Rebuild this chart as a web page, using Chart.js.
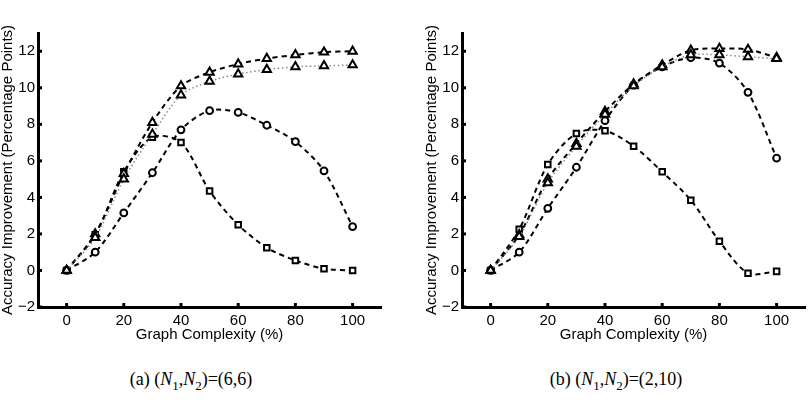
<!DOCTYPE html>
<html>
<head>
<meta charset="utf-8">
<title>Accuracy improvement vs graph complexity</title>
<script src="https://cdn.jsdelivr.net/npm/chart.js@4.4.1/dist/chart.umd.min.js"></script>
<style>
  body { margin: 0; background: #fff; width: 812px; height: 408px; overflow: hidden; position: relative; }
  canvas { position: absolute; top: 0; }
  #chartA { left: 0; }
  #chartB { left: 424px; }
  .caption { position: absolute; top: 369px; width: 240px; text-align: center;
             font-family: "Liberation Serif", "Times New Roman", serif; font-size: 18px; color: #000; }
  .caption sub { font-size: 13px; }
</style>
</head>
<body>
<canvas id="chartA" width="388" height="345"></canvas>
<canvas id="chartB" width="388" height="345"></canvas>
<div class="caption" style="left:71px">(a) (<i>N</i><sub>1</sub>,<i>N</i><sub>2</sub>)=(6,6)</div>
<div class="caption" style="left:496px">(b) (<i>N</i><sub>1</sub>,<i>N</i><sub>2</sub>)=(2,10)</div>

<script>
// x values (graph complexity, %)
const complexity = [0, 10, 20, 30, 40, 50, 60, 70, 80, 90, 100];
const xTicks = [0, 20, 40, 60, 80, 100];
const yTicks = [-2, 0, 2, 4, 6, 8, 10, 12];

// (a) (N1,N2)=(6,6)
const aTriDashed = [0, 2.0, 5.3, 8.1, 10.1, 10.85, 11.3, 11.6, 11.8, 11.95, 12.0];
const aTriDotted = [0, 1.8, 5.0, 7.45, 9.6, 10.35, 10.75, 11.0, 11.15, 11.2, 11.25];
const aCircle    = [0, 1.0, 3.15, 5.35, 7.7, 8.75, 8.65, 7.95, 7.05, 5.45, 2.4];
const aSquare    = [0, 1.95, 5.4, 7.3, 7.0, 4.35, 2.5, 1.25, 0.55, 0.1, 0.0];

// (b) (N1,N2)=(2,10)
const bTriDashed = [0, 1.95, 5.0, 6.95, 8.7, 10.2, 11.25, 12.05, 12.15, 12.1, 11.65];
const bTriDotted = [0, 1.85, 4.8, 6.8, 8.55, 10.1, 11.15, 11.8, 11.8, 11.7, 11.6];
const bCircle    = [0, 1.0, 3.4, 5.65, 8.2, 10.15, 11.15, 11.65, 11.35, 9.75, 6.15];
const bSquare    = [0, 2.25, 5.8, 7.5, 7.65, 6.8, 5.4, 3.85, 1.6, -0.15, -0.05];

Chart.defaults.color = '#000';
Chart.defaults.font.family = '"Liberation Sans", Arial, sans-serif';

function points(values) {
    return complexity.map((x, i) => ({ x: x, y: values[i] }));
}

function series(values, style, dotted) {
    return {
        data: points(values),
        borderColor: dotted ? '#8a8a8a' : '#000',
        borderWidth: dotted ? 1.5 : 2,
        borderDash: dotted ? [1.5, 2.5] : [5, 4],
        tension: 0.3,
        fill: false,
        pointStyle: style,
        pointRadius: style === 'triangle' ? 4.8 : (style === 'rect' ? 3.9 : 3.4),
        pointBorderWidth: 2,
        pointBorderColor: '#000',
        pointBackgroundColor: '#fff'
    };
}

// small tick marks drawn inside the axes
const tickMarks = {
    id: 'tickMarks',
    afterDraw(chart) {
        const { ctx, chartArea, scales } = chart;
        ctx.save();
        ctx.fillStyle = '#000';
        xTicks.forEach(v => {
            const px = scales.x.getPixelForValue(v);
            ctx.fillRect(px - 1.5, chartArea.bottom - 4, 3, 4);
        });
        yTicks.forEach(v => {
            const py = scales.y.getPixelForValue(v);
            ctx.fillRect(chartArea.left, py - 1.5, 4, 3);
        });
        ctx.restore();
    }
};

function makeChart(id, triDashed, triDotted, circle, square) {
    const ctx = document.getElementById(id).getContext('2d');
    return new Chart(ctx, {
        type: 'line',
        data: {
            datasets: [
                series(triDotted, 'triangle', true),
                series(triDashed, 'triangle', false),
                series(circle, 'circle', false),
                series(square, 'rect', false)
            ]
        },
        options: {
            responsive: false,
            animation: false,
            devicePixelRatio: 1,
            layout: { padding: { top: 33, right: 2, left: 0, bottom: 0 } },
            plugins: { legend: { display: false }, tooltip: { enabled: false } },
            scales: {
                x: {
                    type: 'linear',
                    min: -10,
                    max: 110,
                    afterBuildTicks: s => { s.ticks = xTicks.map(v => ({ value: v })); },
                    afterFit: s => { s.height = 38; },
                    grid: { display: false, drawTicks: false },
                    border: { display: true, color: '#000', width: 3 },
                    ticks: { padding: 5, font: { size: 15 } },
                    title: {
                        display: true,
                        text: 'Graph Complexity (%)',
                        font: { size: 15 },
                        padding: { top: 0, bottom: 1 }
                    }
                },
                y: {
                    type: 'linear',
                    min: -2,
                    max: 13,
                    afterBuildTicks: s => { s.ticks = yTicks.map(v => ({ value: v })); },
                    afterFit: s => { s.width = 38; },
                    grid: { display: false, drawTicks: false },
                    border: { display: true, color: '#000', width: 3 },
                    ticks: {
                        padding: 3,
                        font: { size: 15 },
                        callback: v => (v < 0 ? '\u2212' + Math.abs(v) : String(v))
                    },
                    title: {
                        display: true,
                        text: 'Accuracy Improvement (Percentage Points)',
                        font: { size: 15, lineHeight: 1 },
                        padding: 0
                    }
                }
            }
        },
        plugins: [tickMarks]
    });
}

makeChart('chartA', aTriDashed, aTriDotted, aCircle, aSquare);
makeChart('chartB', bTriDashed, bTriDotted, bCircle, bSquare);
</script>
</body>
</html>
